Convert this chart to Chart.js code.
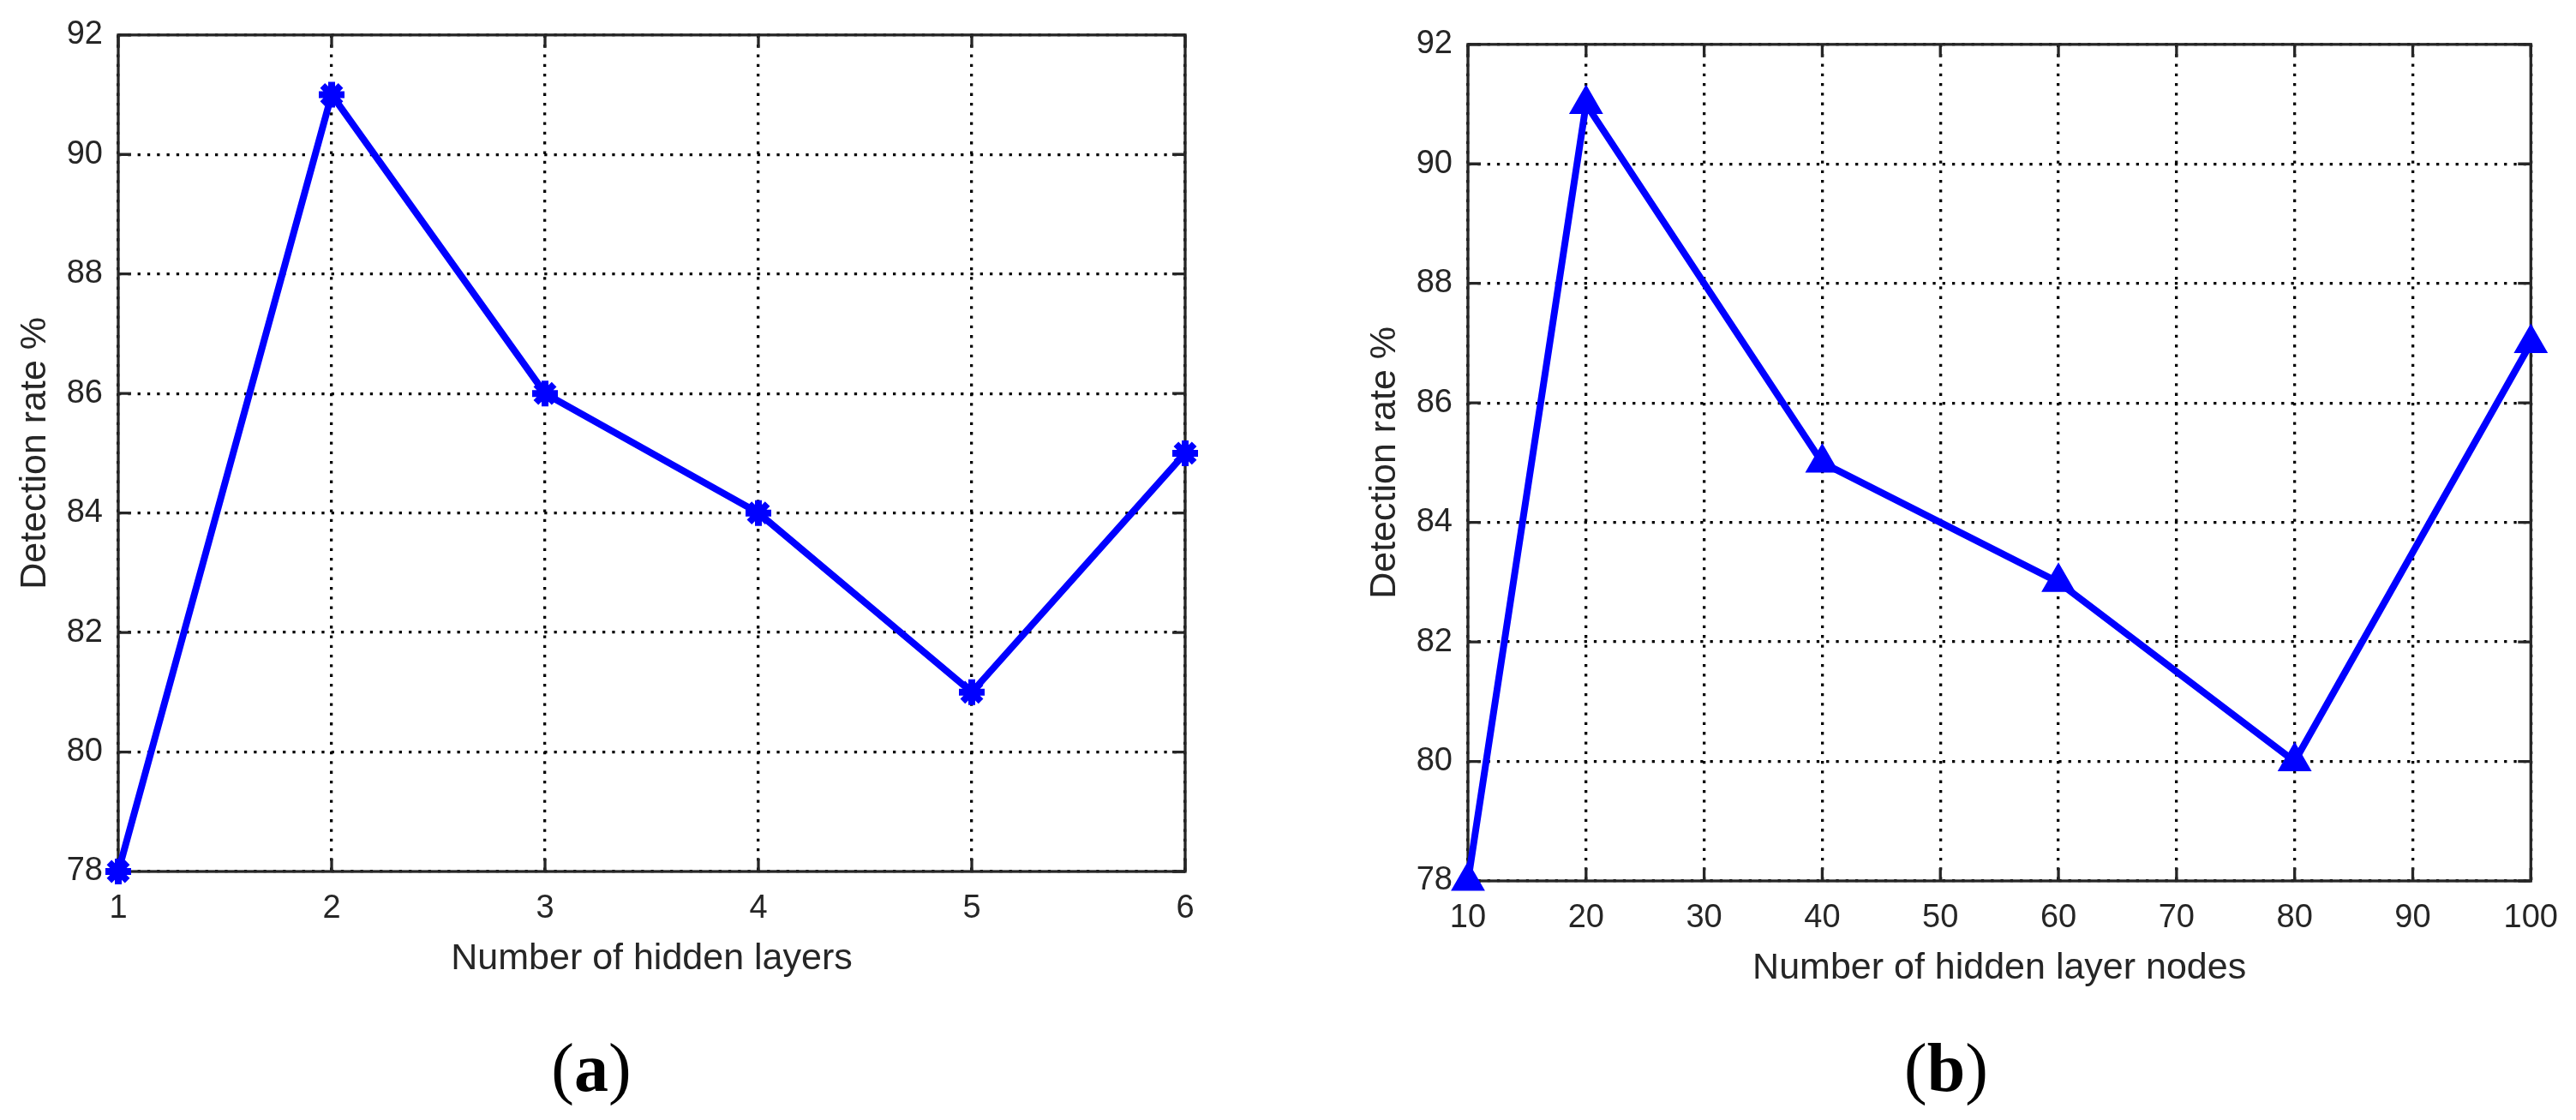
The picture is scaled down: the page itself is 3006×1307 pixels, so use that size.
<!DOCTYPE html>
<html>
<head>
<meta charset="utf-8">
<script src="https://cdn.jsdelivr.net/npm/chart.js@4.4.0/dist/chart.umd.min.js"></script>
<style>
  body { margin: 0; background: #fff; width: 3006px; height: 1307px; position: relative; overflow: hidden; }
  .panel { position: absolute; }
  .cap { position: absolute; font-family: "Liberation Serif", "Times New Roman", serif; font-size: 80px; color: #000;
         transform: translate(-50%, -50%); white-space: nowrap; line-height: 1; }
</style>
</head>
<body>
<div class="panel" style="left:0;top:0"><canvas id="chartA" width="1431" height="1180"></canvas></div>
<div class="panel" style="left:1575px;top:11px"><canvas id="chartB" width="1431" height="1180"></canvas></div>
<div class="cap" style="left:690px;top:1246px">(<b>a</b>)</div>
<div class="cap" style="left:2271px;top:1246px">(<b>b</b>)</div>
<script>
// (a) detection rate vs number of hidden layers
const layerCounts = [1, 2, 3, 4, 5, 6];
const layerRates = [78, 91, 86, 84, 81, 85];
// (b) detection rate vs number of hidden layer nodes
const nodeCounts = [10, 20, 40, 60, 80, 100];
const nodeRates = [78, 91, 85, 83, 80, 87];

const layerTicks = [1, 2, 3, 4, 5, 6];
const nodeTicks = [10, 20, 30, 40, 50, 60, 70, 80, 90, 100];
const rateTicks = [78, 80, 82, 84, 86, 88, 90, 92];

const ink = '#262626';
const sans = '"Liberation Sans", Arial, Helvetica, sans-serif';

// matlab style box + inward tick marks, drawn under the data
const matlabAxes = {
  id: 'matlabAxes',
  beforeDatasetsDraw(chart) {
    const { ctx, chartArea: a, scales: { x, y } } = chart;
    const len = 15;
    ctx.save();
    ctx.strokeStyle = ink;
    ctx.lineWidth = 3.3;
    ctx.beginPath();
    x.ticks.forEach(t => {
      const px = x.getPixelForValue(t.value);
      ctx.moveTo(px, a.bottom); ctx.lineTo(px, a.bottom - len);
      ctx.moveTo(px, a.top); ctx.lineTo(px, a.top + len);
    });
    y.ticks.forEach(t => {
      const py = y.getPixelForValue(t.value);
      ctx.moveTo(a.left, py); ctx.lineTo(a.left + len, py);
      ctx.moveTo(a.right, py); ctx.lineTo(a.right - len, py);
    });
    ctx.stroke();
    ctx.strokeRect(a.left, a.top, a.right - a.left, a.bottom - a.top);
    ctx.restore();
  }
};

function makeChart(id, xs, ys, xTicks, xTitle, marker) {
  const grid = { color: '#000', lineWidth: 3.3, drawTicks: false };
  const border = { display: false, dash: [3.3, 8] };
  return new Chart(document.getElementById(id), {
    type: 'line',
    data: {
      datasets: [{
        data: xs.map((v, i) => ({ x: v, y: ys[i] })),
        borderColor: '#0000ff',
        backgroundColor: '#0000ff',
        borderWidth: 8,
        pointStyle: marker.style,
        pointRadius: marker.radius,
        pointBorderWidth: marker.border,
        pointBackgroundColor: '#0000ff',
        pointBorderColor: '#0000ff',
        tension: 0,
        clip: false
      }]
    },
    options: {
      responsive: false,
      animation: false,
      devicePixelRatio: 1,
      events: [],
      layout: { padding: { top: 33, right: 48, left: 0, bottom: 0 } },
      plugins: { legend: { display: false }, tooltip: { enabled: false } },
      scales: {
        x: {
          type: 'linear',
          min: xTicks[0],
          max: xTicks[xTicks.length - 1],
          afterBuildTicks: s => { s.ticks = xTicks.map(v => ({ value: v })); },
          afterFit: s => { s.height = 163; },
          grid: grid,
          border: border,
          ticks: { color: ink, font: { family: sans, size: 38 }, padding: 21, maxRotation: 0 },
          title: { display: true, text: xTitle, color: ink, font: { family: sans, size: 43 }, padding: { top: 0, bottom: 35 } }
        },
        y: {
          min: rateTicks[0],
          max: rateTicks[rateTicks.length - 1],
          afterBuildTicks: s => { s.ticks = rateTicks.map(v => ({ value: v })); },
          afterFit: s => { s.width = 138; },
          grid: grid,
          border: border,
          ticks: { color: ink, font: { family: sans, size: 38 }, padding: 18 },
          title: { display: true, text: 'Detection rate %', color: ink, font: { family: sans, size: 43 }, padding: { top: 15, bottom: 0 } }
        }
      }
    },
    plugins: [matlabAxes]
  });
}

makeChart('chartA', layerCounts, layerRates, layerTicks, 'Number of hidden layers',
  { style: 'star', radius: 15, border: 8 });
makeChart('chartB', nodeCounts, nodeRates, nodeTicks, 'Number of hidden layer nodes',
  { style: 'triangle', radius: 20, border: 3 });
</script>
</body>
</html>
